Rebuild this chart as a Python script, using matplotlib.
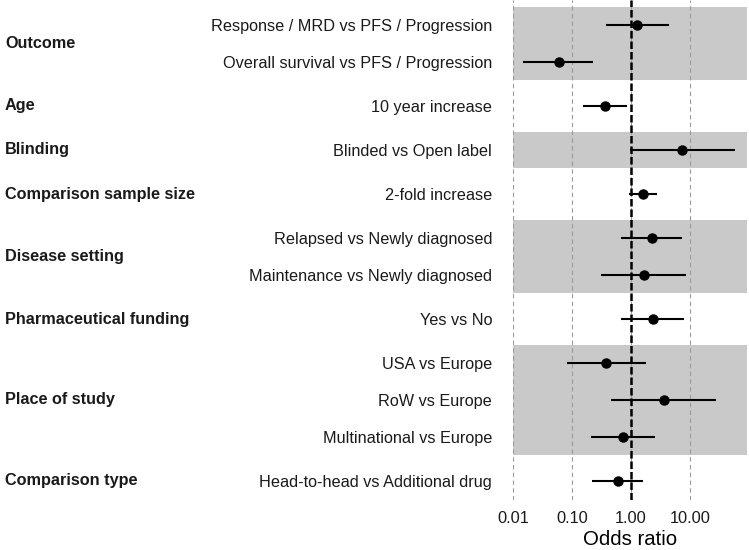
import matplotlib.pyplot as plt
import matplotlib.transforms as mtransforms
import numpy as np

plt.rcParams['font.family'] = ['Liberation Sans', 'DejaVu Sans']

# Data
groups = ['Outcome', 'Age', 'Blinding', 'Comparison sample size', 'Disease setting',
          'Pharmaceutical funding', 'Place of study', 'Comparison type']
group_sizes = [2, 1, 1, 1, 2, 1, 3, 1]
labels = ['Response / MRD vs PFS / Progression', 'Overall survival vs PFS / Progression',
          '10 year increase', 'Blinded vs Open label', '2-fold increase',
          'Relapsed vs Newly diagnosed', 'Maintenance vs Newly diagnosed', 'Yes vs No',
          'USA vs Europe', 'RoW vs Europe', 'Multinational vs Europe',
          'Head-to-head vs Additional drug']
odds = [1.28, 0.059, 0.36, 7.4, 1.6, 2.24, 1.64, 2.33, 0.38, 3.57, 0.73, 0.59]
ci_low = [0.38, 0.015, 0.155, 0.95, 0.92, 0.685, 0.314, 0.68, 0.081, 0.46, 0.206, 0.22]
ci_high = [4.34, 0.227, 0.855, 58.6, 2.76, 7.4, 8.55, 8.0, 1.82, 27.5, 2.58, 1.6]
ticks = [0.01, 0.1, 1, 10]
tick_labels = ['0.01', '0.10', '1.00', '10.00']

# y positions: 1 unit between rows, extra gap between groups
gap = 0.2
ypos = []
group_mid = []
y = 0.0
for n in group_sizes:
    rows = [y + i for i in range(n)]
    ypos.extend(rows)
    group_mid.append(np.mean(rows))
    y = rows[-1] + 1 + gap
ypos = np.array(ypos)

fig = plt.figure(figsize=(7.49, 5.5), dpi=100)
ax = fig.add_axes([513 / 749, 1 - 500 / 550, (747 - 513) / 749, 500 / 550])

# shaded bands for alternating groups
start = 0
for i, n in enumerate(group_sizes):
    if i % 2 == 0:
        ax.axhspan(ypos[start] - 0.5, ypos[start + n - 1] + 0.5, color='#c9c9c9', lw=0, zorder=0)
    start += n

for t in ticks:
    ax.axvline(t, color='#9a9a9a', ls=(0, (4, 3)), lw=0.8, zorder=1)
ax.axvline(1, color='black', ls=(0, (3, 1.2)), lw=1.8, zorder=2)

ax.hlines(ypos, ci_low, ci_high, color='black', lw=1.5, zorder=3)
ax.plot(odds, ypos, 'o', color='black', ms=6.5, zorder=4)

ax.set_xscale('log')
ax.set_xlim(0.01, 92)
ax.set_ylim(ypos[-1] + 0.52, ypos[0] - 0.68)
ax.set_xticks(ticks)
ax.set_xticklabels(tick_labels)
ax.minorticks_off()
ax.set_yticks(ypos)
ax.set_yticklabels(labels)
ax.tick_params(axis='y', length=0, pad=15, labelsize=11.7, colors='#1a1a1a')
ax.tick_params(axis='x', length=0, pad=8, labelsize=11.8, colors='#1a1a1a')
ax.set_xlabel('Odds ratio', fontsize=14.7, labelpad=3)
for s in ax.spines.values():
    s.set_visible(False)

trans = mtransforms.blended_transform_factory(fig.transFigure, ax.transData)
for g, m in zip(groups, group_mid):
    fig.text(5 / 749, m, g, transform=trans, ha='left', va='center',
             fontsize=11.7, fontweight='bold', color='#1a1a1a')

fig.savefig('out.png', dpi=100)
